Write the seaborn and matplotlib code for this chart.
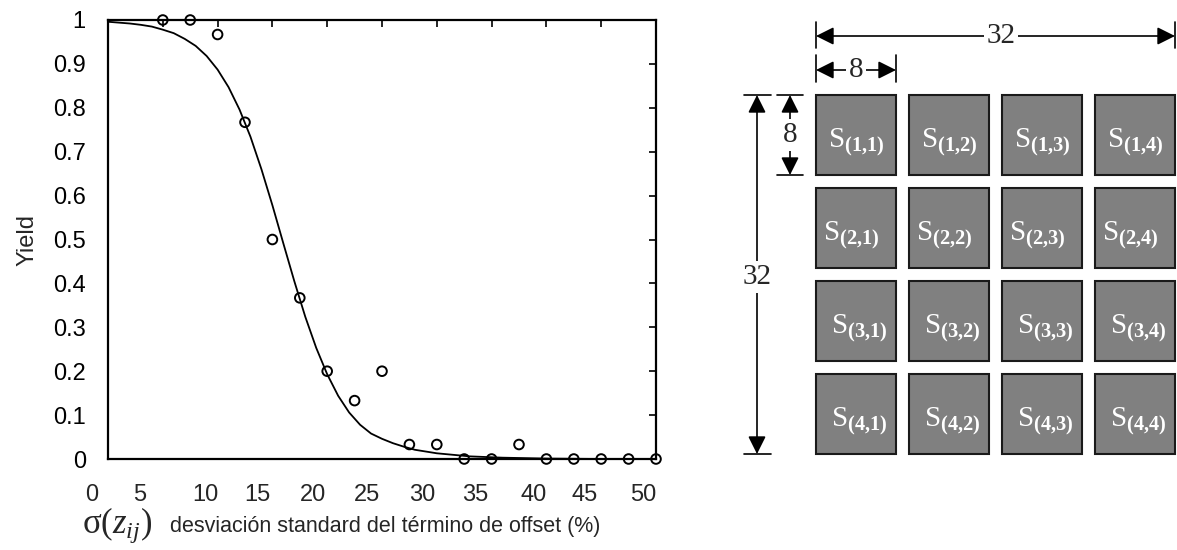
import matplotlib
matplotlib.use("Agg")
import matplotlib.pyplot as plt
from matplotlib.patches import Rectangle
import seaborn as sns
import numpy as np

# measured yield vs offset std (%)
sigma_pts = [5, 7.5, 10, 12.5, 15, 17.5, 20, 22.5, 25, 27.5, 30, 32.5, 35, 37.5, 40, 42.5, 45, 47.5, 50]
yield_pts = [1, 1, 0.967, 0.767, 0.5, 0.367, 0.2, 0.133, 0.2, 0.033, 0.033, 0, 0, 0.033, 0, 0, 0, 0, 0]

# fitted curve
curve_x = [0, 1, 2, 3, 4, 5, 6, 7, 8, 9, 10, 11, 12, 13, 14, 15, 16, 17, 18, 19, 20, 21, 22, 23, 24, 25,
           26, 27, 28, 30, 33, 36, 40, 45, 50]
curve_y = [0.996, 0.994, 0.992, 0.989, 0.985, 0.978, 0.970, 0.957, 0.941, 0.918, 0.887, 0.847, 0.796,
           0.734, 0.660, 0.578, 0.491, 0.405, 0.324, 0.253, 0.193, 0.144, 0.106, 0.078, 0.058, 0.046,
           0.036, 0.028, 0.021, 0.013, 0.006, 0.003, 0.001, 0.0, 0.0]

x_ticks = [0, 5, 10, 15, 20, 25, 30, 35, 40, 45, 50]
x_tick_labels = ["0", "5", "10", "15", "20", "25", "30", "35", "40", "45", "50"]
x_label_pos = [-1.5, 2.9, 8.85, 13.6, 18.7, 23.6, 28.7, 33.5, 38.8, 43.5, 48.8]
y_ticks = [0, 0.1, 0.2, 0.3, 0.4, 0.5, 0.6, 0.7, 0.8, 0.9, 1]
y_tick_labels = ["0", "0.1", "0.2", "0.3", "0.4", "0.5", "0.6", "0.7", "0.8", "0.9", "1"]

# 4x4 sub-array grid
n_rows, n_cols = 4, 4
block = 8
total = 32

sns.set_style("white")
plt.rcParams['font.family'] = ['Liberation Sans', 'DejaVu Sans']
plt.rcParams['mathtext.fontset'] = 'custom'
plt.rcParams['mathtext.rm'] = 'Liberation Serif'
plt.rcParams['mathtext.it'] = 'Liberation Serif:italic'
plt.rcParams['mathtext.bf'] = 'Liberation Serif:bold'

W, H = 1177, 550
fig = plt.figure(figsize=(W / 100, H / 100), dpi=100)

# ---- left: yield curve ----
ax1 = fig.add_axes([108 / W, (H - 459) / H, (656 - 108) / W, (459 - 20) / H])
sns.lineplot(x=curve_x, y=curve_y, color='black', lw=1.3, ax=ax1)
sns.scatterplot(x=sigma_pts, y=yield_pts, marker='o', s=48, facecolors='none',
                edgecolor='black', linewidth=1.4, clip_on=False, zorder=3, ax=ax1)
ax1.set_xlim(0, 50)
ax1.set_ylim(0, 1)
ax1.set_xticks(x_ticks)
ax1.set_yticks(y_ticks, y_tick_labels)
ax1.tick_params(direction='in', top=True, right=True, length=5, width=1.2,
                labelbottom=False, labelsize=17, pad=16, colors='black')
for sp in ax1.spines.values():
    sp.set_linewidth(1.6)
    sp.set_color('black')
for pos, lab in zip(x_label_pos, x_tick_labels):
    ax1.text(pos, -0.056, lab, transform=ax1.get_xaxis_transform(), ha='center', va='top',
             fontsize=17, clip_on=False)
ax1.set_ylabel("Yield", fontsize=17)
ax1.yaxis.set_label_coords(-0.127, 0.5)

fig.text(82 / W, 1 - 533 / H, r"$\mathrm{\sigma}(z_{ij})$", fontsize=25, ha='left', va='baseline')
fig.text(170 / W, 1 - 532 / H, "desviación standard del término de offset (%)", fontsize=15.5,
         ha='left', va='baseline')

# ---- right: array layout diagram (1 unit = 10 px) ----
ax2 = fig.add_axes([740 / W, 0, (W - 740) / W, 1])
ax2.set_xlim(-7.6, 36.1)
ax2.set_ylim(45.5, -9.5)
ax2.axis('off')

pitch = 9.3
label_dx = [0, -0.5, 0.3, 0.3]
for r in range(n_rows):
    for c in range(n_cols):
        x0, y0 = c * pitch, r * pitch
        ax2.add_patch(Rectangle((x0, y0), block, block, facecolor='#808080',
                                edgecolor='#1a1a1a', lw=1.5))
        ax2.text(x0 + block / 2 + label_dx[r], y0 + block / 2 + 0.7,
                 r"$\mathrm{S}_{\mathbf{(%d{,}%d)}}$" % (r + 1, c + 1),
                 color='white', fontsize=21, ha='center', va='center')

span = (n_cols - 1) * pitch + block
arrow_kw = dict(arrowstyle='<|-|>,head_length=0.54,head_width=0.27', mutation_scale=20,
                color='black', lw=1.2, shrinkA=0, shrinkB=0)
num_kw = dict(fontsize=21, family='Liberation Serif', ha='center', va='center',
              bbox=dict(fc='white', ec='none', pad=2))


def dim_h(x_a, x_b, y, tick_lo, tick_hi, label, lx):
    ax2.annotate('', xy=(x_b, y), xytext=(x_a, y), arrowprops=arrow_kw)
    for xx in (x_a, x_b):
        ax2.plot([xx, xx], [tick_lo, tick_hi], color='black', lw=1.2)
    ax2.text(lx, y, label, **num_kw)


def dim_v(y_a, y_b, x, tick_lo, tick_hi, label, ly):
    ax2.annotate('', xy=(x, y_b), xytext=(x, y_a), arrowprops=arrow_kw)
    for yy in (y_a, y_b):
        ax2.plot([tick_lo, tick_hi], [yy, yy], color='black', lw=1.2)
    ax2.text(x, ly, label, **num_kw)


dim_h(0, span, -5.9, -7.3, -4.7, str(total), 18.5)
dim_h(0, block, -2.5, -4.0, -1.3, str(block), block / 2)
dim_v(0, block, -2.6, -3.9, -1.3, str(block), block / 2)
dim_v(0, span, -5.9, -7.2, -4.5, str(total), 18.2)

fig.savefig("out.png", dpi=100)
